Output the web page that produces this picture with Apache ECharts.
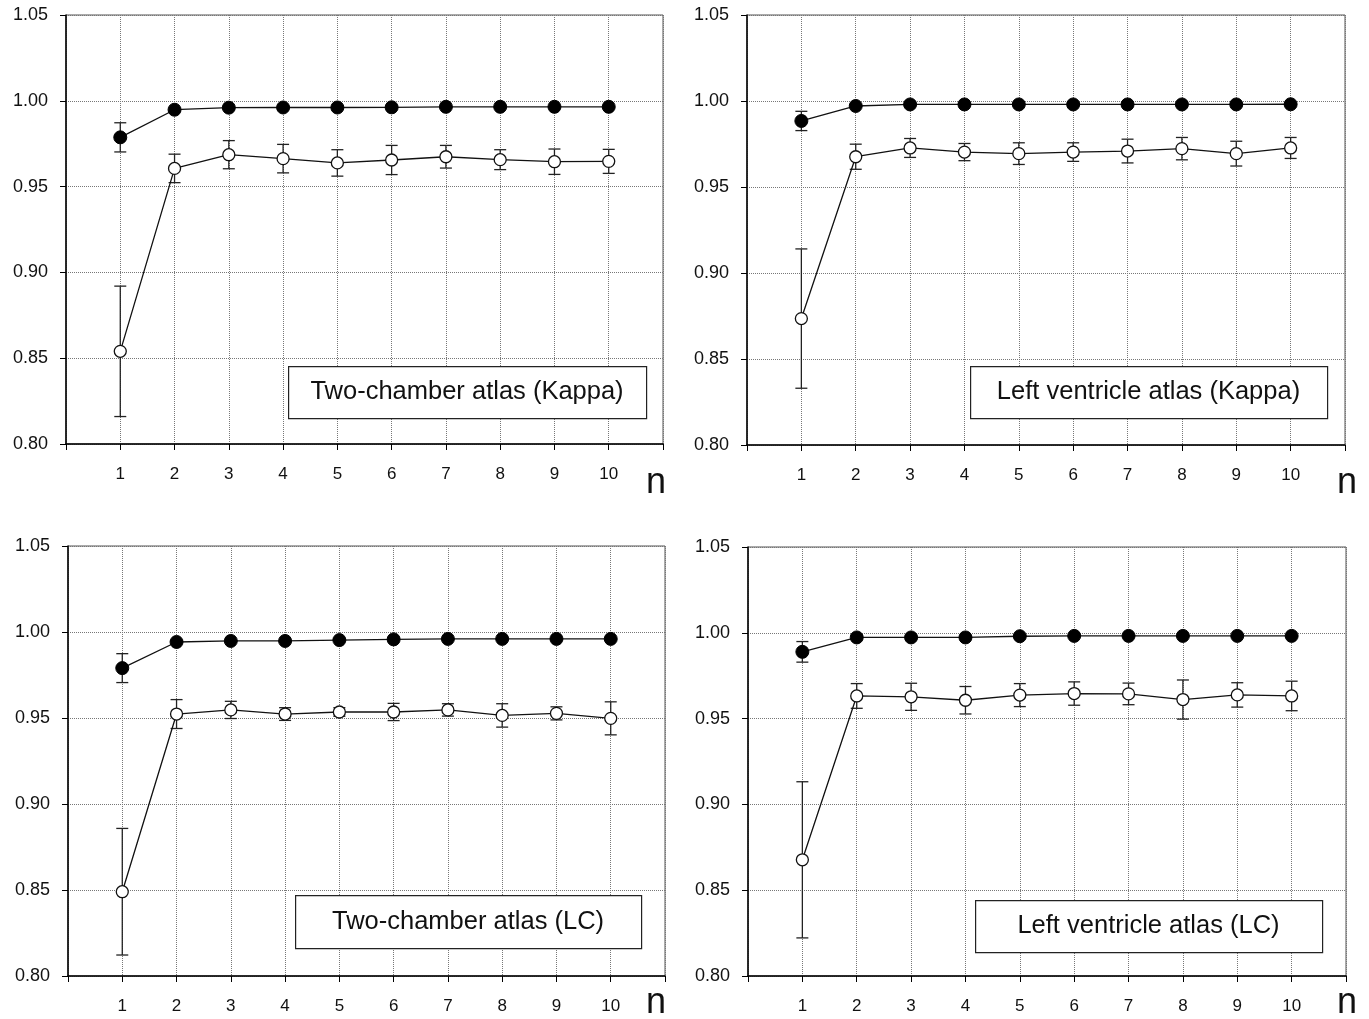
<!DOCTYPE html>
<html><head><meta charset="utf-8">
<script src="https://cdn.jsdelivr.net/npm/echarts@6/dist/echarts.min.js"></script>
<style>html,body{margin:0;padding:0;background:#fff}#c{width:1369px;height:1019px}</style>
</head><body><div id="c"></div>
<script>
const nValues = [1,2,3,4,5,6,7,8,9,10];
const yTicks = [0.80, 0.85, 0.90, 0.95, 1.00, 1.05];
const panelTitles = ['Two-chamber atlas (Kappa)', 'Left ventricle atlas (Kappa)', 'Two-chamber atlas (LC)', 'Left ventricle atlas (LC)'];

// Panel 1: Two-chamber atlas (Kappa)
const tcKappaFilled    = [0.9787, 0.9948, 0.9960, 0.9961, 0.9961, 0.9962, 0.9965, 0.9965, 0.9965, 0.9965];
const tcKappaFilledErr = [0.0085, 0.0010, 0.0005, 0.0005, 0.0005, 0.0005, 0.0005, 0.0005, 0.0005, 0.0005];
const tcKappaOpen      = [0.8540, 0.9606, 0.9686, 0.9663, 0.9638, 0.9655, 0.9674, 0.9657, 0.9645, 0.9647];
const tcKappaOpenErr   = [0.0380, 0.0083, 0.0082, 0.0083, 0.0077, 0.0085, 0.0066, 0.0058, 0.0074, 0.0070];
// Panel 2: Left ventricle atlas (Kappa)
const lvKappaFilled    = [0.9884, 0.9971, 0.9980, 0.9980, 0.9980, 0.9980, 0.9980, 0.9980, 0.9980, 0.9981];
const lvKappaFilledErr = [0.0056, 0.0008, 0.0005, 0.0005, 0.0005, 0.0005, 0.0005, 0.0005, 0.0005, 0.0005];
const lvKappaOpen      = [0.8735, 0.9676, 0.9727, 0.9703, 0.9694, 0.9703, 0.9709, 0.9723, 0.9694, 0.9727];
const lvKappaOpenErr   = [0.0405, 0.0073, 0.0055, 0.0050, 0.0063, 0.0054, 0.0069, 0.0065, 0.0072, 0.0061];
// Panel 3: Two-chamber atlas (LC)
const tcLcFilled       = [0.9790, 0.9942, 0.9948, 0.9948, 0.9953, 0.9957, 0.9960, 0.9960, 0.9960, 0.9960];
const tcLcFilledErr    = [0.0084, 0.0010, 0.0005, 0.0005, 0.0005, 0.0005, 0.0005, 0.0005, 0.0005, 0.0005];
const tcLcOpen         = [0.8490, 0.9523, 0.9547, 0.9523, 0.9535, 0.9535, 0.9547, 0.9515, 0.9527, 0.9498];
const tcLcOpenErr      = [0.0368, 0.0084, 0.0050, 0.0037, 0.0025, 0.0050, 0.0036, 0.0068, 0.0038, 0.0096];
// Panel 4: Left ventricle atlas (LC)
const lvLcFilled       = [0.9889, 0.9973, 0.9973, 0.9973, 0.9980, 0.9982, 0.9982, 0.9982, 0.9982, 0.9982];
const lvLcFilledErr    = [0.0060, 0.0008, 0.0005, 0.0005, 0.0005, 0.0005, 0.0005, 0.0005, 0.0005, 0.0005];
const lvLcOpen         = [0.8677, 0.9632, 0.9627, 0.9607, 0.9637, 0.9646, 0.9644, 0.9611, 0.9638, 0.9632];
const lvLcOpenErr      = [0.0455, 0.0072, 0.0079, 0.0080, 0.0067, 0.0068, 0.0063, 0.0114, 0.0071, 0.0086];

const panels = [
  {filled: tcKappaFilled, fErr: tcKappaFilledErr, open: tcKappaOpen, oErr: tcKappaOpenErr},
  {filled: lvKappaFilled, fErr: lvKappaFilledErr, open: lvKappaOpen, oErr: lvKappaOpenErr},
  {filled: tcLcFilled, fErr: tcLcFilledErr, open: tcLcOpen, oErr: tcLcOpenErr},
  {filled: lvLcFilled, fErr: lvLcFilledErr, open: lvLcOpen, oErr: lvLcOpenErr}
];

const FONT = '"Liberation Sans", Arial, sans-serif';
const gridsPos = [
  {left: 66, top: 15, width: 597, height: 429},
  {left: 747, top: 15, width: 598, height: 430},
  {left: 68, top: 546, width: 597, height: 430},
  {left: 748, top: 547, width: 598, height: 429}
];
const legendBoxes = [
  {x: 288, y: 366, w: 358, h: 52},
  {x: 970, y: 366, w: 357, h: 52},
  {x: 295, y: 895, w: 346, h: 53},
  {x: 975, y: 900, w: 347, h: 52}
];
const nLabelPos = [[646, 465], [1337, 465], [646, 985], [1337, 985]];

function errRender(params, api) {
  const x = api.value(0);
  const lo = api.coord([x, api.value(1)]);
  const hi = api.coord([x, api.value(2)]);
  const cap = 6;
  const st = {stroke: '#222', lineWidth: 1.3};
  return {type: 'group', children: [
    {type: 'line', shape: {x1: lo[0], y1: lo[1], x2: hi[0], y2: hi[1]}, style: st},
    {type: 'line', shape: {x1: lo[0]-cap, y1: lo[1], x2: lo[0]+cap, y2: lo[1]}, style: st},
    {type: 'line', shape: {x1: hi[0]-cap, y1: hi[1], x2: hi[0]+cap, y2: hi[1]}, style: st}
  ]};
}

const grid = [], xAxis = [], yAxis = [], series = [], graphic = [];
panels.forEach((p, i) => {
  grid.push(Object.assign({show: true, borderColor: '#555', borderWidth: 1, backgroundColor: '#fff'}, gridsPos[i]));
  xAxis.push({
    type: 'value', gridIndex: i, min: 0, max: 11, interval: 1,
    axisLine: {show: true, onZero: false, lineStyle: {color: '#000', width: 1.5}},
    axisTick: {show: true, inside: false, length: 6, lineStyle: {color: '#000'}},
    axisLabel: {margin: 22, fontFamily: FONT, fontSize: 17, color: '#111',
      formatter: v => (nValues.indexOf(v) >= 0 ? String(v) : '')},
    splitLine: {show: true, lineStyle: {type: 'dotted', color: '#777', width: 1}}
  });
  yAxis.push({
    type: 'value', gridIndex: i, min: yTicks[0], max: yTicks[yTicks.length-1], interval: 0.05,
    axisLine: {show: true, onZero: false, lineStyle: {color: '#000', width: 1.5}},
    axisTick: {show: true, inside: false, length: 6, lineStyle: {color: '#000'}},
    axisLabel: {margin: 18, fontFamily: FONT, fontSize: 18, color: '#111', formatter: v => v.toFixed(2)},
    splitLine: {show: true, lineStyle: {type: 'dotted', color: '#777', width: 1}}
  });
  const fData = nValues.map((n, k) => [n, p.filled[k]]);
  const oData = nValues.map((n, k) => [n, p.open[k]]);
  const fErrData = nValues.map((n, k) => [n, p.filled[k] - p.fErr[k], p.filled[k] + p.fErr[k]]);
  const oErrData = nValues.map((n, k) => [n, p.open[k] - p.oErr[k], p.open[k] + p.oErr[k]]);
  series.push({type: 'custom', xAxisIndex: i, yAxisIndex: i, renderItem: errRender, data: oErrData,
    encode: {x: 0, y: [1, 2]}, z: 2, silent: true});
  series.push({type: 'custom', xAxisIndex: i, yAxisIndex: i, renderItem: errRender, data: fErrData,
    encode: {x: 0, y: [1, 2]}, z: 2, silent: true});
  series.push({type: 'line', xAxisIndex: i, yAxisIndex: i, data: oData, symbol: 'circle', symbolSize: 12,
    lineStyle: {color: '#111', width: 1.3}, itemStyle: {color: '#fff', borderColor: '#111', borderWidth: 1.3},
    z: 3, animation: false});
  series.push({type: 'line', xAxisIndex: i, yAxisIndex: i, data: fData, symbol: 'circle', symbolSize: 13,
    lineStyle: {color: '#111', width: 1.3}, itemStyle: {color: '#000', borderColor: '#000', borderWidth: 1},
    z: 3, animation: false});
  const b = legendBoxes[i];
  graphic.push({type: 'rect', left: b.x, top: b.y, shape: {width: b.w, height: b.h},
    style: {fill: '#fff', stroke: '#222', lineWidth: 1.2}, z: 100});
  graphic.push({type: 'text', x: b.x + b.w / 2, y: b.y + b.h / 2, z: 101,
    style: {text: panelTitles[i], font: '25.5px ' + FONT, fill: '#111', textAlign: 'center', textVerticalAlign: 'middle'}});
  graphic.push({type: 'text', x: nLabelPos[i][0], y: nLabelPos[i][1], z: 101,
    style: {text: 'n', font: '36px ' + FONT, fill: '#111', textAlign: 'left', textVerticalAlign: 'top'}});
});

const chart = echarts.init(document.getElementById('c'), null, {renderer: 'canvas'});
chart.setOption({animation: false, backgroundColor: '#fff', grid, xAxis, yAxis, series, graphic});
</script></body></html>
